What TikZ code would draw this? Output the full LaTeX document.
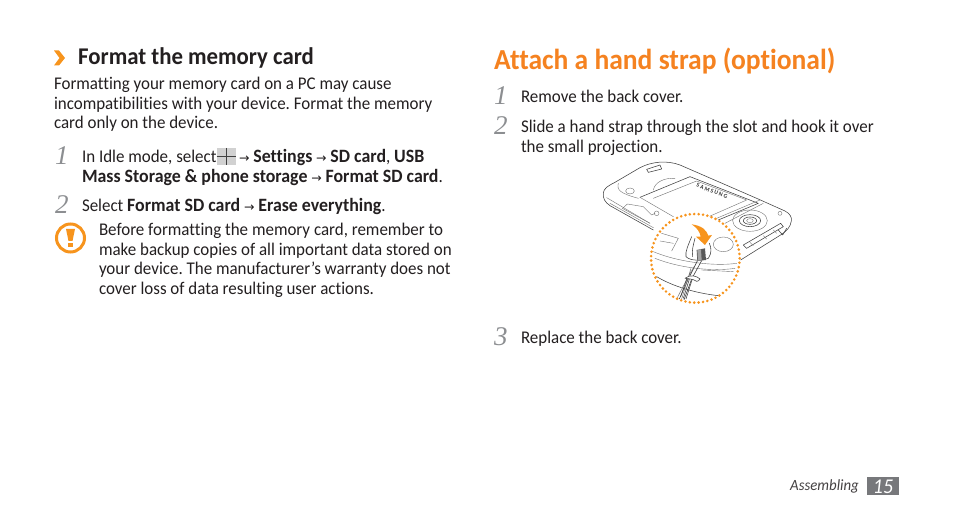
\documentclass[tikz,border=0pt]{standalone}
\usepackage{fontspec}
\setmainfont{Carlito}[FakeStretch=0.95,Ligatures=NoCommon]
\newfontfamily\numfont{Liberation Serif}
\usetikzlibrary{arrows.meta}
\definecolor{sgorange}{HTML}{F7941D}
\definecolor{titleorange}{HTML}{F58220}
\definecolor{txt}{HTML}{231F20}
\definecolor{stepgray}{HTML}{8C8E91}
\definecolor{pagebox}{HTML}{77787B}
\newcommand{\bodyfont}{\frenchspacing\fontsize{17.85}{20}\selectfont}
\newcommand{\bb}[1]{{\fontsize{18.8}{20}\selectfont\bfseries #1}}
\newcommand{\arr}{{\fontspec{DejaVu Sans}\fontsize{12.5}{14}\selectfont →}}
\tikzset{
  x=1pt,y=-1pt,
  line/.style={anchor=base west,inner sep=0pt,outer sep=0pt,text=txt,font=\bodyfont},
  heading/.style={anchor=base west,inner sep=0pt,text=txt,font=\fontsize{24}{28}\selectfont\bfseries},
  bigtitle/.style={anchor=base west,inner sep=0pt,text=titleorange,font=\fontsize{29}{34}\selectfont\bfseries},
  stepnum/.style={anchor=base west,inner sep=0pt,text=stepgray,font=\fontsize{27}{30}\selectfont\itshape\numfont},
  art/.style={draw=black!75,line width=0.55pt,line join=round,line cap=round},
  artthin/.style={draw=black!55,line width=0.4pt,line join=round,line cap=round},
}
\begin{document}
\begin{tikzpicture}
\useasboundingbox (0,0) rectangle (954,518);
\fill[white] (0,0) rectangle (954,518);
% left column
\fill[sgorange] (54,50.5) -- (59,50.5) -- (65,58) -- (59,65.5) -- (54,65.5) -- (59.5,58) -- cycle;
\node[heading] (h1) at (78,65) {Format the memory card};
\node[line] (l1) at (54,90) {Formatting your memory card on a PC may cause};
\node[line] (l2) at (54,110) {incompatibilities with your device. Format the memory};
\node[line] (l3) at (54,129) {card only on the device.};
\node[stepnum] (n1) at (55,165) {1};
\node[line] (s1a) at (82,163) {In Idle mode, select};
\fill[black!18] (216.5,148) rectangle (236,165);
\draw[black!75,line width=1pt] (216.5,156.5) -- (236,156.5) (226.2,148) -- (226.2,165);
\node[line] (s1b) at (239,163) {\arr\ \bb{Settings} \arr\ \bb{SD card}, \bb{USB}};
\node[line] (s1c) at (82,183) {\bb{Mass Storage \& phone storage} \arr\ \bb{Format SD card}.};
\node[stepnum] (n2) at (55,214) {2};
\node[line] (s2) at (82,212) {Select \bb{Format SD card} \arr\ \bb{Erase everything}.};
% warning icon
\draw[sgorange,line width=3pt] (70.5,238) circle (14);
\fill[sgorange] (66,229) -- (75,229) -- (72.5,241) -- (68.5,241) -- cycle;
\fill[sgorange] (68,243) rectangle (73,247.5);
\node[line] (w1) at (99,236) {Before formatting the memory card, remember to};
\node[line] (w2) at (99,256) {make backup copies of all important data stored on};
\node[line] (w3) at (99,275) {your device. The manufacturer’s warranty does not};
\node[line] (w4) at (99,295) {cover loss of data resulting user actions.};
% right column
\node[bigtitle] (h2) at (494,70) {Attach a hand strap (optional)};
\node[stepnum] (r1) at (494,105) {1};
\node[line] (r1t) at (521,103) {Remove the back cover.};
\node[stepnum] (r2) at (494,135) {2};
\node[line] (r2a) at (521,133) {Slide a hand strap through the slot and hook it over};
\node[line] (r2b) at (521,153) {the small projection.};
\node[stepnum] (r3) at (494,346) {3};
\node[line] (r3t) at (521,344) {Replace the back cover.};
% footer
\node[anchor=base east,inner sep=0pt,text=txt!85,font=\fontsize{15.6}{18}\selectfont\itshape] (foot) at (859,491) {Assembling};
\node[anchor=center,minimum width=32pt,minimum height=18pt,inner sep=0pt,fill=pagebox,text=white,font=\fontsize{21}{20}\selectfont\itshape] (pg) at (883,486.5) {15};
% phone illustration (coordinates: 3x zoom grid)
\begin{scope}[shift={(590,155)},x=0.3333pt,y=-0.3333pt]
\draw[art] (190,225) -- (60,152) .. controls (45,142) and (38,130) .. (40,113) .. controls (42,100) and (55,92) .. (75,82) -- (150,38) .. controls (185,20) and (230,15) .. (270,30) -- (500,130) -- (585,168) .. controls (600,176) and (606,186) .. (604,198) .. controls (602,215) and (590,228) .. (575,238) -- (452,315);
\draw[artthin] (60,145) -- (190,218) (50,128) -- (180,205);
\draw[artthin] (85,85) .. controls (80,105) and (90,115) .. (145,130);
\draw[art] (150,127) -- (300,65) -- (505,145) -- (385,195);
\draw[artthin] (150,127) -- (250,185);
\draw[artthin] (190,130) -- (320,78) -- (470,135) -- (345,190);
\draw[artthin] (190,105) .. controls (195,80) and (225,68) .. (255,70);
\draw[artthin] (120,108) circle[x radius=13,y radius=9];
\draw[artthin] (100,158) -- (112,147) -- (160,155) -- (185,180) -- (195,175);
\draw[artthin] (97,160) -- (180,205);
\draw[artthin] (200,175) circle (7);
\draw[art] (170,43) -- (210,30) -- (215,42) -- (175,52) -- cycle;
\node[rotate=-21,font=\bfseries\fontsize{6}{6}\selectfont,inner sep=0pt,text=black!80] (brand) at (366,108) {S A M S U N G};
\draw[artthin] (380,190) -- (510,135) (405,205) -- (520,145);
\draw[artthin] (480,197) circle[x radius=52,y radius=32];
\draw[art] (480,197) circle[x radius=32,y radius=18];
\draw[art] (480,197) circle[x radius=20,y radius=11];
\draw[artthin] (480,197) circle[x radius=10,y radius=6];
\draw[artthin] (570,175) circle (6);
\draw[art] (460,270) -- (470,280) -- (580,215) -- (572,205) -- cycle;
\draw[artthin] (480,262) -- (490,272) (520,242) -- (530,252) (550,225) -- (560,235);
\draw[art] (565,225) -- (578,240) -- (590,220);
% magnifier
\fill[white] (316,310) circle (133);
\draw[artthin] (190,290) .. controls (260,320) and (370,335) .. (440,325);
\draw[artthin] (195,310) .. controls (270,340) and (370,350) .. (435,340);
\draw[artthin] (335,345) -- (430,350);
\draw[art] (200,365) .. controls (250,395) and (320,415) .. (385,422);
\draw[artthin] (215,235) -- (265,250) -- (245,288) (210,258) -- (250,265);
\draw[artthin] (400,268) circle[x radius=30,y radius=22];
% hook
\draw[art,fill=white] (305,245) .. controls (295,270) and (285,290) .. (288,305) .. controls (300,318) and (335,318) .. (355,310) .. controls (365,295) and (365,280) .. (358,265);
\draw[art] (315,250) .. controls (310,270) and (305,285) .. (308,305);
\fill[black!65] (320,285) -- (345,280) -- (348,315) -- (322,318) -- cycle;
\fill[black!35] (322,285) -- (333,283) -- (335,316) -- (324,317) -- cycle;
% strap
\draw[black!75,line width=0.6pt] (322,318) -- (296,370) -- (268,432) (335,317) -- (305,372) -- (282,435);
\draw[black!55,line width=0.5pt] (312,335) -- (287,380) -- (262,428) (303,340) -- (275,432);
\draw[art,fill=white] (285,370) .. controls (300,358) and (320,362) .. (330,372) .. controls (325,382) and (315,380) .. (310,374) .. controls (300,370) and (292,372) .. (285,370) -- cycle;
\draw[art] (290,372) -- (272,425) (298,373) -- (280,430) (306,375) -- (288,432);
% orange arrow
\fill[sgorange] (305,208) .. controls (335,212) and (350,225) .. (355,242) -- (366,240) -- (345,270) -- (318,245) -- (332,245) .. controls (330,230) and (320,218) .. (305,208) -- cycle;
% dotted circle
\draw[sgorange,line width=2.9pt,line cap=round,dash pattern=on 0pt off 4.42pt] (316,310) circle (133);
\end{scope}
\end{tikzpicture}
\end{document}
